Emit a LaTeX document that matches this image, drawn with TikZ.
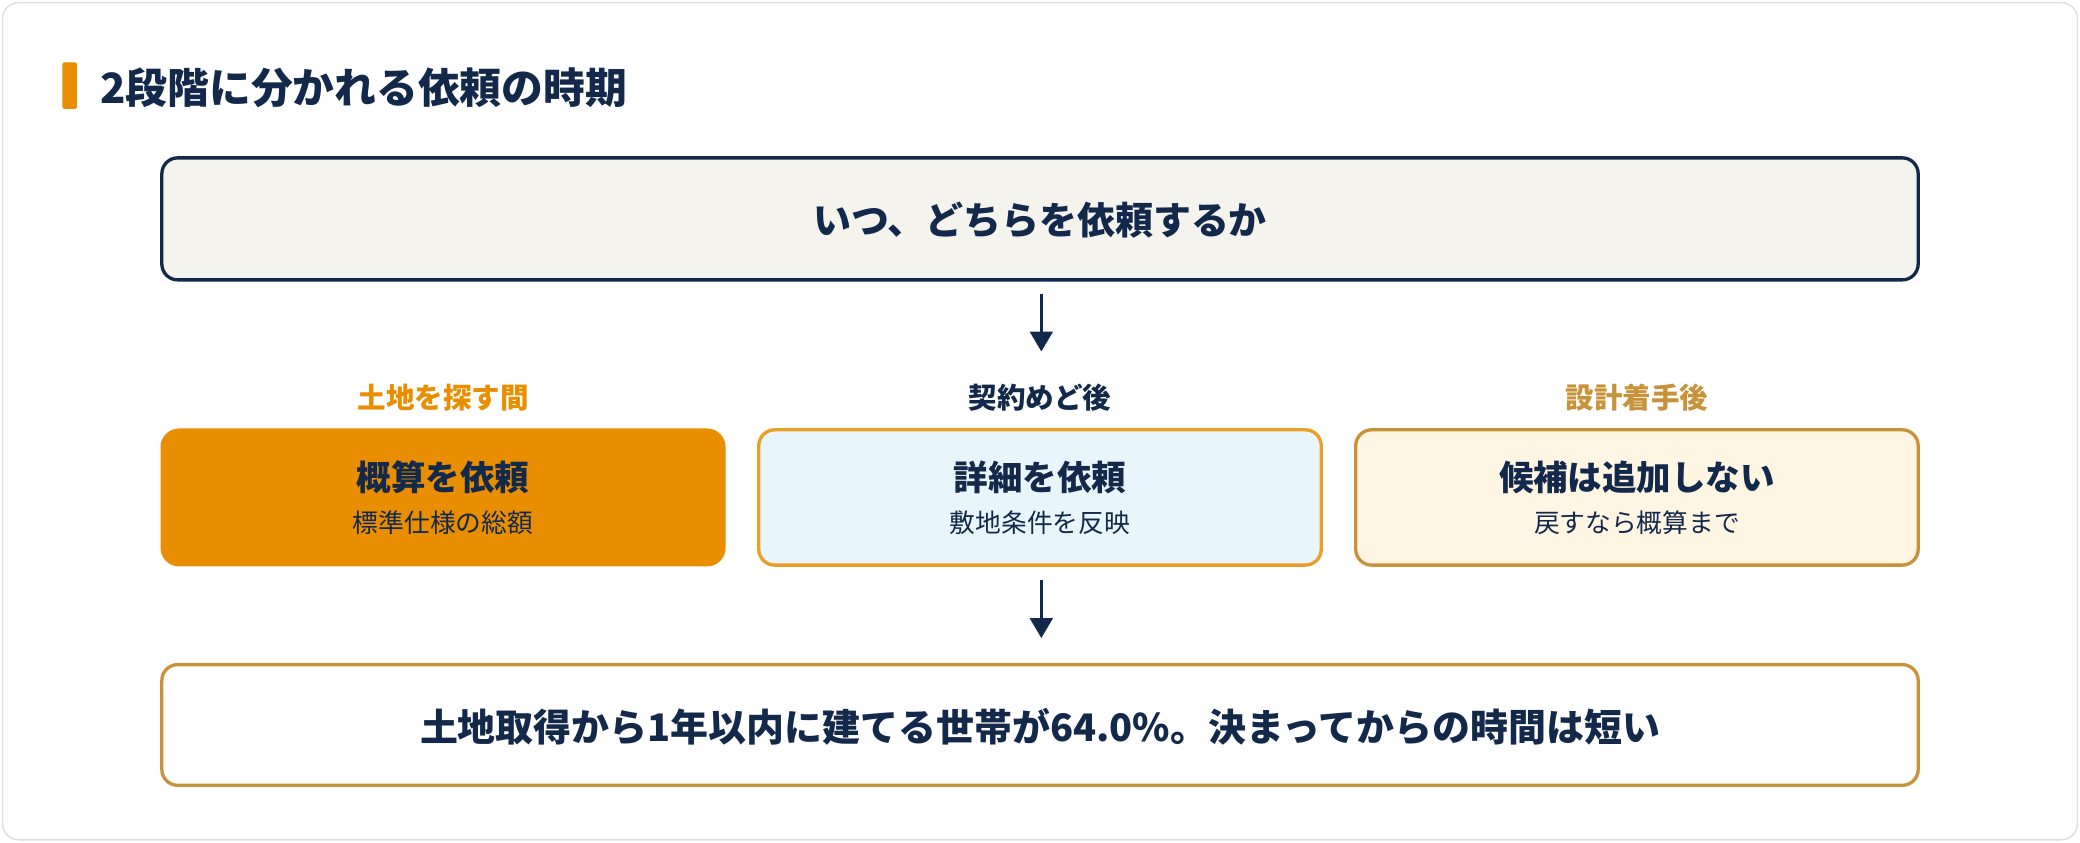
\documentclass[tikz,border=0pt]{standalone}
\usepackage{fontspec}
\setmainfont{Noto Sans CJK JP}
\usetikzlibrary{arrows.meta}
\definecolor{navy}{HTML}{13294B}
\definecolor{orng}{HTML}{E88E00}
\definecolor{tan}{HTML}{C8923A}
\definecolor{topfill}{HTML}{F5F3EE}
\tikzset{
 box/.style={draw, rounded corners=12pt, line width=2.5pt, inner sep=0pt},
 arr/.style={-{Triangle[length=15pt,width=17pt]}, line width=2.5pt, draw=navy},
 lbl/.style={font=\fontsize{21.5}{24}\selectfont\bfseries},
 mt/.style={font=\fontsize{26}{30}\selectfont\bfseries, text=navy},
 bt/.style={font=\fontsize{28.6}{32}\selectfont\bfseries, text=navy},
 st/.style={font=\fontsize{19.4}{22}\selectfont, text=navy},
}
\begin{document}
\begin{tikzpicture}[x=1pt,y=-1pt]
\useasboundingbox (0,0) rectangle (1568,635);
\fill[white] (0,0) rectangle (1568,635);
\draw[rounded corners=12pt, draw=black!12, line width=1.2pt] (2,2) rectangle (1566,633);
\fill[orng, rounded corners=1.5pt] (47,47) rectangle (58,82);
\node[anchor=west, font=\fontsize{31.5}{36}\selectfont\bfseries, text=navy] (title) at (72,66) {2段階に分かれる依頼の時期};
% top
\draw[box, draw=navy, fill=topfill] (122,119) rectangle (1446,211);
\node[bt] (top) at (784,166) {いつ、どちらを依頼するか};
\coordinate (a1s) at (785,222);
\coordinate (a1e) at (785,265);
\draw[arr] (a1s) -- (a1e);
% labels
\node[lbl, text=orng] (l1) at (334,300) {土地を探す間};
\node[lbl, text=navy] (l2) at (784,300) {契約めど後};
\node[lbl, text=tan] (l3) at (1234,300) {設計着手後};
% boxes
\fill[orng, rounded corners=14pt] (121,323) rectangle (547,427);
\node[mt] (b1) at (334,360) {概算を依頼};
\node[st] (s1) at (334,394) {標準仕様の総額};
\draw[box, draw=orng!85!white, fill={rgb,255:red,232;green,246;blue,251}] (572,324) rectangle (996,426);
\node[mt] (b2) at (784,360) {詳細を依頼};
\node[st] (s2) at (784,394) {敷地条件を反映};
\draw[box, draw=tan, fill={rgb,255:red,255;green,245;blue,227}] (1022,324) rectangle (1446,426);
\node[mt] (b3) at (1234,360) {候補は追加しない};
\node[st] (s3) at (1234,394) {戻すなら概算まで};
\coordinate (a2s) at (785,437);
\coordinate (a2e) at (785,481);
\draw[arr] (a2s) -- (a2e);
% bottom
\draw[box, draw=tan, fill=white] (122,501) rectangle (1446,592);
\node[bt] (bot) at (784,548) {土地取得から1年以内に建てる世帯が64.0\%。決まってからの時間は短い};
\end{tikzpicture}
\end{document}
